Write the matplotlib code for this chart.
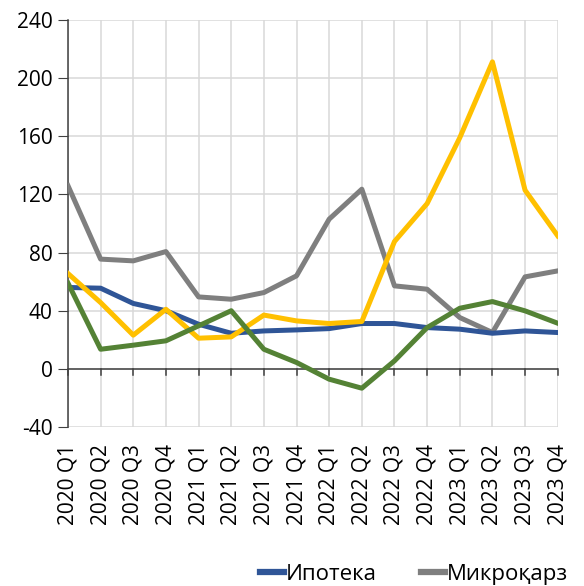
import numpy as np
import matplotlib.pyplot as plt

plt.rcParams['font.family'] = ['Open Sans', 'DejaVu Sans']
plt.rcParams['axes.unicode_minus'] = False

quarters = ['2020 Q1', '2020 Q2', '2020 Q3', '2020 Q4',
            '2021 Q1', '2021 Q2', '2021 Q3', '2021 Q4',
            '2022 Q1', '2022 Q2', '2022 Q3', '2022 Q4',
            '2023 Q1', '2023 Q2', '2023 Q3', '2023 Q4']

ipoteka = [56, 55.5, 45, 40, 30.7, 24.5, 26.1, 26.8,
           27.7, 31.2, 31.2, 28.4, 27.3, 24.5, 26.1, 25]
mikroqarz = [126, 75.5, 74.3, 80.7, 49.5, 47.9, 52.5, 64,
             103, 123.6, 57.1, 54.8, 35.3, 25, 63.3, 67.4]
yellow_vals = [65.6, 45.6, 23.2, 41, 21.1, 22, 37, 33,
               31.2, 32.6, 87.6, 113.7, 159, 211.2, 122.9, 91.5]
green_vals = [59, 13.5, 16.3, 19.3, 29.6, 40, 13.5, 4.4,
              -7.1, -13.3, 5.5, 28.4, 41.7, 46.3, 39.9, 31.4]

x = np.arange(len(quarters))

fig = plt.figure(figsize=(5.84, 5.86), dpi=100)
ax = fig.add_axes([0.1164, 0.2713, 0.8386, 0.6946])

lw = 3.6
ax.plot(x, mikroqarz, color='#7F7F7F', lw=lw, zorder=3, label='Микроқарз')
ax.plot(x, ipoteka, color='#2F5597', lw=lw, zorder=4, label='Ипотека')
ax.plot(x, yellow_vals, color='#FFC000', lw=lw, zorder=5)
ax.plot(x, green_vals, color='#548235', lw=lw, zorder=6)

ax.set_xlim(0, len(quarters) - 1)
ax.set_ylim(-40, 240)
ax.set_yticks(np.arange(-40, 241, 40))
ax.set_xticks(x)
ax.set_xticklabels(quarters, rotation=90)

ax.grid(True, color='#D9D9D9', lw=1.1, zorder=0)
for s in ['top', 'right', 'bottom']:
    ax.spines[s].set_visible(False)
ax.spines['left'].set_color('#404040')
ax.spines['left'].set_linewidth(1.1)

# zero line with category ticks hanging below it
ax.axhline(0, color='#404040', lw=1.1, zorder=2)
for xi in x:
    ax.plot([xi, xi], [0, -4], color='#404040', lw=1.1, zorder=2, clip_on=False)

ax.tick_params(axis='y', length=7, color='#404040', labelsize=15, pad=4)
ax.tick_params(axis='x', length=0, labelsize=15, pad=12)

handles, labels = ax.get_legend_handles_labels()
order = [1, 0]
leg = fig.legend([handles[i] for i in order], [labels[i] for i in order],
                 loc='lower left', bbox_to_anchor=(0.445, 0.002), ncol=2,
                 frameon=False, fontsize=16, handlelength=1.1,
                 handletextpad=0.05, columnspacing=2.0, borderpad=0,
                 borderaxespad=0)
for h in leg.legend_handles:
    h.set_linewidth(4.5)

fig.savefig('out.png', dpi=100)
